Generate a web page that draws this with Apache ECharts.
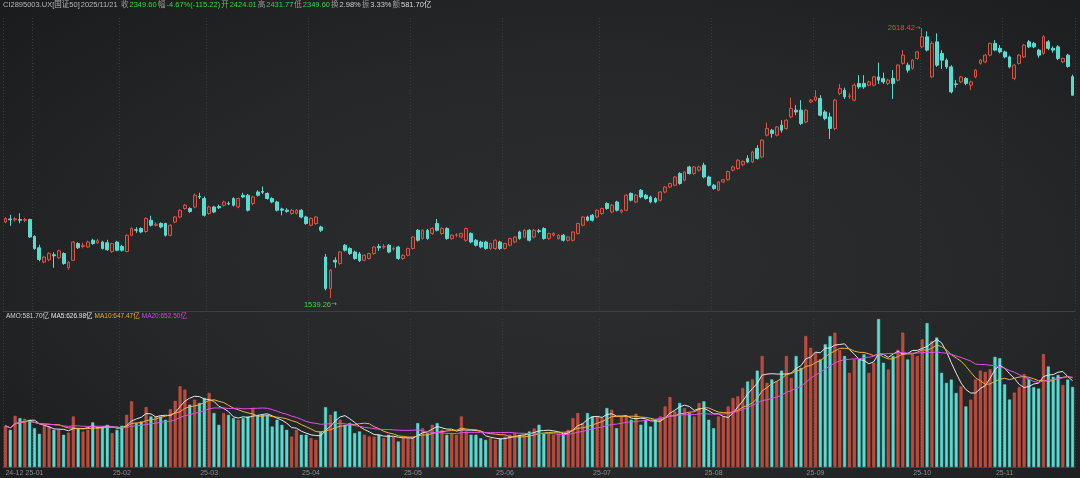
<!DOCTYPE html>
<html><head><meta charset="utf-8">
<script src="https://cdn.jsdelivr.net/npm/echarts@6/dist/echarts.min.js"></script>
<style>
html,body{margin:0;padding:0;width:1080px;height:478px;overflow:hidden;
background: radial-gradient(ellipse 75% 80% at 55% 55%, #2b2d2f 0%, #252729 55%, #1a1b1d 100%);}
#c{width:1080px;height:478px;}
</style></head><body><div id="c"></div>
<script>
// ---- trading days per month ----
const months = [
 ['2024-12',[24,25,26,27,30,31]],
 ['2025-01',[2,3,6,7,8,9,10,13,14,15,16,17,20,21,22,23,24,27]],
 ['2025-02',[5,6,7,10,11,12,13,14,17,18,19,20,21,24,25,26,27,28]],
 ['2025-03',[3,4,5,6,7,10,11,12,13,14,17,18,19,20,21,24,25,26,27,28,31]],
 ['2025-04',[1,2,3,7,8,9,10,11,14,15,16,17,18,21,22,23,24,25,28,29,30]],
 ['2025-05',[6,7,8,9,12,13,14,15,16,19,20,21,22,23,26,27,28,29,30]],
 ['2025-06',[3,4,5,6,9,10,11,12,13,16,17,18,19,20,23,24,25,26,27,30]],
 ['2025-07',[1,2,3,4,7,8,9,10,11,14,15,16,17,18,21,22,23,24,25,28,29,30,31]],
 ['2025-08',[1,4,5,6,7,8,11,12,13,14,15,18,19,20,21,22,25,26,27,28,29]],
 ['2025-09',[1,2,3,4,5,8,9,10,11,12,15,16,17,18,19,22,23,24,25,26,29,30]],
 ['2025-10',[9,10,13,14,15,16,17,20,21,22,23,24,27,28,29,30,31]],
 ['2025-11',[3,4,5,6,7,10,11,12,13,14,17,18,19,20,21]]
];

const opens = [
 1843,1855,1852,1853,1850,1853,
 1785,1740,1683,1692,1712,1700,1717,1660,1690,1757,1745,1743,1770,1760,1763,1760,1725,1763,
 1745,1725,1790,1812,1817,1805,1850,1830,1837,1837,1790,1843,1863,1897,1897,1903,1945,1937,
 1877,1903,1905,1910,1917,1937,1903,1950,1950,1917,1963,1965,1957,1937,1923,1895,1890,1877,1878,1890,1863,
 1830,1837,1823,1703,1577,1690,1677,1750,1737,1723,1715,1690,1697,1717,1745,1743,1750,1735,1743,1697,1710,
 1737,1810,1777,1810,1797,1837,1797,1817,1777,1790,1783,1770,1797,1770,1763,1763,1737,1737,1763,
 1737,1750,1763,1803,1783,1810,1783,1808,1817,1777,1790,1777,1790,1770,1770,1797,1830,1863,1870,1863,
 1877,1917,1883,1923,1883,1890,1957,1923,1970,1950,1943,1937,1930,1963,1983,1990,2037,2010,2063,2037,2050,2070,2023,
 1990,1970,2003,2012,2050,2057,2072,2097,2083,2137,2103,2190,2210,2190,2230,2217,2263,2290,2290,2243,2323,
 2330,2337,2283,2263,2217,2357,2370,2345,2330,2397,2397,2390,2390,2423,2417,2397,2417,2410,2477,2470,2457,2497,
 2543,2583,2423,2563,2517,2490,2463,2395,2403,2417,2390,2423,2477,2483,2510,2557,2537,
 2523,2503,2417,2477,2503,2563,2557,2530,2517,2563,2537,2543,2483,2510,2424.01
];
const closes = [
 1857,1852,1856,1850,1853,1783,
 1737,1693,1703,1718,1708,1728,1677,1683,1763,1740,1750,1763,1757,1768,1737,1732,1757,1730,
 1730,1790,1817,1810,1803,1857,1830,1834,1823,1790,1830,1863,1890,1910,1885,1950,1943,1870,
 1903,1883,1900,1923,1915,1910,1937,1943,1890,1943,1950,1962,1937,1923,1890,1890,1885,1890,1890,1863,1837,
 1857,1863,1810,1577,1650,1683,1723,1730,1717,1697,1688,1710,1717,1743,1740,1745,1723,1737,1697,1710,1737,
 1783,1770,1810,1777,1817,1810,1817,1777,1790,1791,1797,1817,1763,1750,1743,1737,1757,1770,1737,
 1757,1777,1783,1777,1810,1770,1810,1805,1777,1797,1797,1790,1770,1783,1803,1837,1863,1850,1850,1890,
 1897,1897,1910,1890,1890,1950,1930,1950,1943,1937,1923,1923,1963,1983,1997,2023,1997,2043,2037,2063,2063,2023,1990,
 1977,2003,2012,2045,2063,2090,2085,2083,2123,2097,2170,2217,2197,2223,2210,2250,2297,2283,2237,2290,2330,
 2343,2270,2257,2217,2330,2377,2343,2347,2390,2383,2383,2403,2423,2410,2403,2410,2397,2470,2510,2450,2490,2523,
 2583,2530,2557,2470,2490,2463,2363,2393,2423,2397,2403,2450,2490,2510,2557,2530,2523,
 2503,2463,2470,2510,2550,2543,2543,2510,2583,2537,2530,2497,2497,2464.82,2349.60
];
const lows = [
 1838,1828,1845,1838,1843,1780,
 1732,1686,1678,1686,1660,1695,1672,1652,1688,1735,1738,1740,1752,1755,1733,1728,1720,1726,
 1725,1722,1786,1800,1798,1800,1825,1825,1818,1785,1786,1838,1858,1892,1880,1898,1935,1865,
 1872,1878,1895,1905,1910,1905,1898,1938,1885,1910,1945,1955,1932,1918,1885,1870,1880,1872,1873,1858,1832,
 1826,1832,1803,1570,1539.26,1660,1672,1725,1712,1692,1683,1686,1693,1712,1728,1735,1718,1728,1692,1692,1706,
 1733,1765,1772,1772,1792,1805,1792,1772,1772,1782,1778,1765,1758,1745,1738,1732,1732,1732,1732,
 1733,1746,1758,1772,1778,1765,1778,1798,1772,1772,1785,1772,1765,1765,1765,1793,1826,1845,1845,1858,
 1872,1892,1878,1885,1878,1886,1925,1918,1938,1932,1918,1918,1925,1958,1978,1986,1992,2005,2032,2032,2045,2018,1985,
 1972,1966,1998,2008,2045,2052,2066,2078,2078,2092,2098,2185,2180,2185,2200,2212,2258,2270,2230,2238,2318,
 2325,2265,2250,2175,2210,2350,2335,2335,2325,2375,2375,2385,2385,2395,2395,2390,2335,2405,2472,2440,2452,2492,
 2538,2525,2418,2463,2455,2455,2357,2380,2398,2390,2370,2418,2472,2478,2505,2525,2517,
 2497,2457,2410,2472,2498,2538,2538,2500,2512,2530,2520,2490,2478,2460,2349.60
];
const highs = [
 1862,1872,1862,1878,1860,1856,
 1790,1752,1708,1722,1722,1732,1722,1686,1766,1762,1760,1768,1776,1775,1768,1772,1760,1768,
 1752,1793,1822,1822,1822,1862,1868,1842,1842,1840,1834,1866,1893,1915,1902,1957,1960,1945,
 1908,1908,1912,1928,1925,1942,1940,1960,1955,1948,1970,1985,1962,1942,1928,1900,1898,1895,1895,1895,1868,
 1862,1866,1828,1715,1655,1702,1727,1755,1742,1728,1723,1714,1720,1746,1755,1755,1755,1745,1748,1714,1740,
 1786,1815,1814,1815,1822,1855,1822,1822,1794,1798,1800,1820,1802,1775,1768,1768,1760,1774,1768,
 1760,1780,1786,1808,1814,1815,1815,1815,1822,1800,1802,1794,1795,1786,1806,1840,1866,1868,1875,1893,
 1900,1922,1914,1928,1894,1954,1962,1955,1975,1955,1948,1942,1966,1986,2000,2026,2042,2046,2068,2066,2068,2080,2028,
 1995,2006,2016,2048,2068,2094,2090,2110,2127,2150,2174,2240,2215,2226,2250,2253,2340,2310,2330,2293,2335,
 2370,2350,2290,2280,2335,2395,2380,2358,2397,2430,2430,2408,2427,2480,2440,2415,2450,2474,2530,2480,2494,2527,
 2618.42,2605,2565,2597,2530,2497,2470,2410,2427,2422,2408,2454,2494,2514,2560,2570,2550,
 2528,2508,2474,2514,2554,2570,2563,2535,2590,2570,2545,2550,2500,2515,2431.77
];
// turnover (亿)
const amount = [
 299,270,372,355,350,343,
 282,241,299,294,270,270,234,250,367,282,258,270,324,294,294,306,246,270,
 300,379,477,319,331,435,367,367,367,343,420,480,586,562,453,489,465,501,
 538,392,306,392,379,355,343,355,367,428,379,379,379,294,343,306,270,221,270,234,234,
 209,197,258,435,379,404,343,306,319,246,258,234,221,221,234,209,234,221,185,209,209,
 221,319,282,246,306,319,270,234,246,234,367,258,234,234,209,197,209,197,209,
 221,234,246,234,234,258,280,307,246,246,234,246,234,270,355,392,319,392,367,367,
 355,428,416,282,367,372,343,387,307,343,294,343,367,440,508,404,465,428,392,367,465,477,343,
 282,367,367,440,501,513,574,621,636,700,806,611,636,623,700,806,647,806,720,951,866,
 830,781,891,951,976,850,806,684,781,781,818,684,757,1075,757,708,806,852,976,781,818,806,
 927,1045,915,940,684,611,635,538,586,440,489,635,700,690,710,800,790,
 600,490,540,580,675.3,640,580,570,820,730,655,668,595,635.2,581.7
];

const headerItems = [
 ['CI2895003.UX[国证50]', 3, '#b8b8b8'],
 ['2025/11/21', 79, '#b8b8b8'],
 ['收', 121, '#9a9a9a'], ['2349.60', 128, '#3fcf4f'],
 ['幅', 158, '#9a9a9a'], ['-4.67%(-115.22)', 165, '#3fcf4f'],
 ['开', 221, '#9a9a9a'], ['2424.01', 228, '#3fcf4f'],
 ['高', 256, '#9a9a9a'], ['2431.77', 263, '#3fcf4f'],
 ['低', 292, '#9a9a9a'], ['2349.60', 299, '#3fcf4f'],
 ['换', 328, '#9a9a9a'], ['2.98%', 335, '#d0d0d0'],
 ['振', 358, '#9a9a9a'], ['3.33%', 365, '#d0d0d0'],
 ['额', 390, '#9a9a9a'], ['581.70亿', 397, '#d8d8d8']
];
const legendItems = [
 ['AMO:581.70亿', 6, '#cfcfcf'],
 ['MA5:626.98亿', 44, '#e8e8e8'],
 ['MA10:647.47亿', 90, '#e6b03a'],
 ['MA20:652.50亿', 137, '#e040e0']
];

// ---- build ----
const dates = [];
months.forEach(([ym, days]) => days.forEach(d => dates.push(ym + '-' + String(d).padStart(2,'0'))));
const isMonthStart = dates.map((d,i) => i === 0 || d.slice(0,7) !== dates[i-1].slice(0,7));

const UP = '#e0503e', DOWN = '#58dcd2';
const FONT = '"Liberation Sans","Noto Sans CJK SC",sans-serif';

const kData = dates.map((d,i) => [opens[i], closes[i], lows[i], highs[i]]);
const volData = amount.map((v,i) => {
  const up = closes[i] >= opens[i];
  return {value: v, itemStyle: {color: up ? '#bd4838' : DOWN, borderColor: up ? '#d85c4a' : DOWN, borderWidth: 0.5}};
});
function ma(n){
  return amount.map((v,i) => { const s = Math.max(0, i-n+1); let sum = 0; for (let j=s;j<=i;j++) sum += amount[j]; return +(sum/(i-s+1)).toFixed(2); });
}
const hiIdx = highs.indexOf(Math.max(...highs));
const loIdx = lows.indexOf(Math.min(...lows));

// place text runs left to right, never overlapping
const mctx = document.createElement('canvas').getContext('2d');
function placeRuns(items, px, y, gap){
  const font = px + 'px ' + FONT;
  mctx.font = font;
  let end = -1e9;
  return items.map(([t,x,c]) => {
    const w = mctx.measureText(t).width;
    const xx = Math.max(x, end + gap);
    end = xx + w;
    return {type:'text', x:xx, y:y, silent:true,
      style:{text:t, fill:c, font:font, verticalAlign:'top', textVerticalAlign:'top'}};
  });
}
const graphics = placeRuns(headerItems, 7.5, 1.5, 1).concat(placeRuns(legendItems, 6.5, 313, 2));

const chart = echarts.init(document.getElementById('c'), null, {renderer:'canvas'});
const splitX = {show:true, interval:(i)=>isMonthStart[i], lineStyle:{color:'#393c3f', type:[1,2], width:1}};
const markFont = '"Liberation Sans","DejaVu Sans",sans-serif';
chart.setOption({
  animation:false,
  backgroundColor:'transparent',
  graphic: graphics,
  grid:[
    {left:3, right:5, top:18, height:293},
    {left:3, right:5, top:319, height:148}
  ],
  xAxis:[
    {type:'category', gridIndex:0, data:dates, boundaryGap:true,
     axisLine:{show:true, lineStyle:{color:'#3d3f42'}}, axisTick:{show:false}, axisLabel:{show:false},
     splitLine:splitX},
    {type:'category', gridIndex:1, data:dates, boundaryGap:true,
     axisLine:{show:true, lineStyle:{color:'#3d3f42'}}, axisTick:{show:false},
     axisLabel:{show:true, interval:(i)=>isMonthStart[i], color:'#8e8e8e', fontSize:7, margin:3, fontFamily:FONT,
       hideOverlap:false, alignMinLabel:'left', showMinLabel:true,
       formatter:(v)=> v.slice(2,7)},
     splitLine:splitX}
  ],
  yAxis:[
    {type:'value', gridIndex:0, min:1487.3, max:2658.4, show:false, splitLine:{show:false}},
    {type:'value', gridIndex:1, min:0, max:1075, show:false, splitLine:{show:false}}
  ],
  series:[
    {type:'candlestick', name:'K', xAxisIndex:0, yAxisIndex:0, data:kData, barWidth:3.3,
     itemStyle:{color:'rgba(224,80,62,0.12)', color0:DOWN, borderColor:UP, borderColor0:DOWN, borderWidth:1},
     markPoint:{symbol:'circle', symbolSize:1, silent:true, itemStyle:{color:'rgba(0,0,0,0)'},
       data:[
         {coord:[dates[hiIdx], highs[hiIdx]], label:{show:true, formatter: '{v|' + highs[hiIdx].toFixed(2) + '}{a|→}', position:'left', distance:1,
           rich:{v:{color:UP, fontSize:7.5, fontFamily:markFont}, a:{color:UP, fontSize:7, fontFamily:'"DejaVu Sans"'}}}},
         {coord:[dates[loIdx], lows[loIdx]], label:{show:true, formatter: '{v|' + lows[loIdx].toFixed(2) + '}{a|→}', position:'bottom', distance:2, offset:[-10,0],
           rich:{v:{color:'#4ad04a', fontSize:7.5, fontFamily:markFont}, a:{color:'#4ad04a', fontSize:7, fontFamily:'"DejaVu Sans"'}}}}
       ]}},
    {type:'bar', name:'AMO', xAxisIndex:1, yAxisIndex:1, data:volData, barWidth:3},
    {type:'line', name:'MA5', xAxisIndex:1, yAxisIndex:1, data:ma(5), symbol:'none', lineStyle:{color:'#e6e6e6', width:1}, z:5},
    {type:'line', name:'MA10', xAxisIndex:1, yAxisIndex:1, data:ma(10), symbol:'none', lineStyle:{color:'#f0b040', width:1}, z:5},
    {type:'line', name:'MA20', xAxisIndex:1, yAxisIndex:1, data:ma(20), symbol:'none', lineStyle:{color:'#e050e8', width:1}, z:5}
  ]
});
</script></body></html>
